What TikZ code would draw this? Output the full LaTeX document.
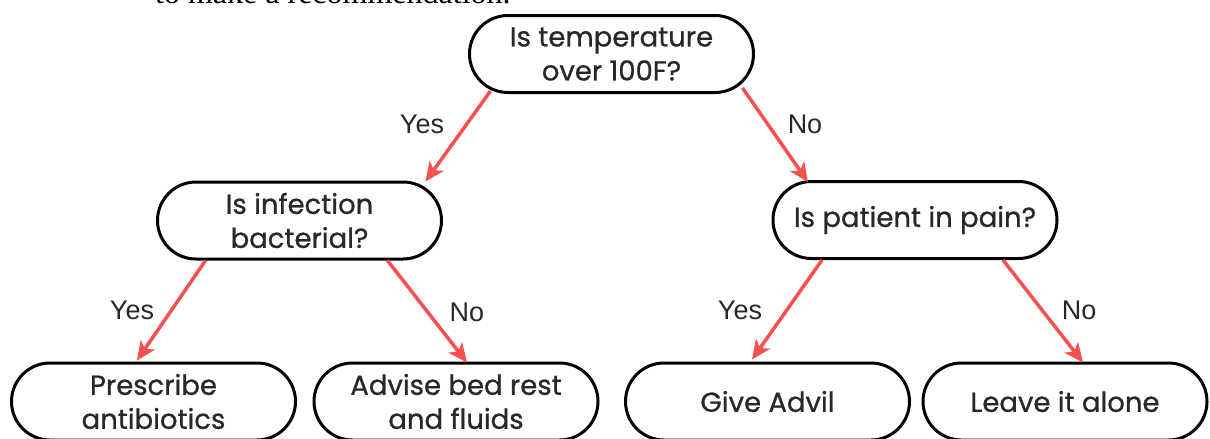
\documentclass[tikz,border=0pt]{standalone}
\usepackage{fontspec}
\setmainfont{Poppins}
\newfontfamily\boxfont[FakeBold=0.8]{Poppins}
\newfontfamily\labelfont{Liberation Sans}
\newfontfamily\seriffont{Liberation Serif}
\usetikzlibrary{shapes.misc,arrows.meta,calc}
\definecolor{arrowred}{RGB}{246,80,80}
\definecolor{txt}{RGB}{40,40,40}
\tikzset{
  decbox/.style={rounded rectangle, draw=black, line width=3pt, fill=white,
    minimum width=284pt, minimum height=77pt, inner sep=0pt, text=txt,
    font=\boxfont\fontsize{27.5}{34}\selectfont, align=center},
  conn/.style={draw=arrowred, line width=3.5pt,
    -{Stealth[length=19pt,width=17pt,inset=5pt]}},
  lbl/.style={font=\labelfont\fontsize{27}{30}\selectfont, text=txt}
}
\begin{document}
\begin{tikzpicture}[x=1pt,y=-1pt]
\clip (0,0) rectangle (1210,439);
\fill[white] (0,0) rectangle (1210,439);
\node[anchor=base west, font=\seriffont\fontsize{32}{36}\selectfont, inner sep=0pt] (intro) at (155,4) {to make a recommendation.};
\node[decbox] (top) at (611.5,54) {Is temperature\\over 100F?};
\node[decbox] (inf) at (299.5,220.5) {Is infection\\bacterial?};
\node[decbox] (pain) at (915,220) {Is patient in pain?};
\node[decbox] (presc) at (153.5,401.5) {Prescribe\\antibiotics};
\node[decbox] (advise) at (456,401.5) {Advise bed rest\\and fluids};
\node[decbox] (advil) at (767.5,401.5) {Give Advil};
\node[decbox] (leave) at (1065,401.5) {Leave it alone};
\draw[conn] ($(top.center)+(-121,37)$) -- ($(inf.center)+(126,-39)$);
\draw[conn] ($(top.center)+(131,34)$) -- ($(pain.center)+(-107,-38)$);
\draw[conn] ($(inf.center)+(-94,40)$) -- ($(presc.center)+(-16.5,-41)$);
\draw[conn] ($(inf.center)+(88,40)$) -- ($(advise.center)+(11,-39)$);
\draw[conn] ($(pain.center)+(-93,40)$) -- ($(advil.center)+(-15.5,-42)$);
\draw[conn] ($(pain.center)+(88,40)$) -- ($(leave.center)+(18,-39)$);
\node[lbl] (l1) at (422,124) {Yes};
\node[lbl] (l2) at (805,124) {No};
\node[lbl] (l3) at (132,310) {Yes};
\node[lbl] (l4) at (467,312) {No};
\node[lbl] (l5) at (740,310) {Yes};
\node[lbl] (l6) at (1079,310) {No};
\end{tikzpicture}
\end{document}
